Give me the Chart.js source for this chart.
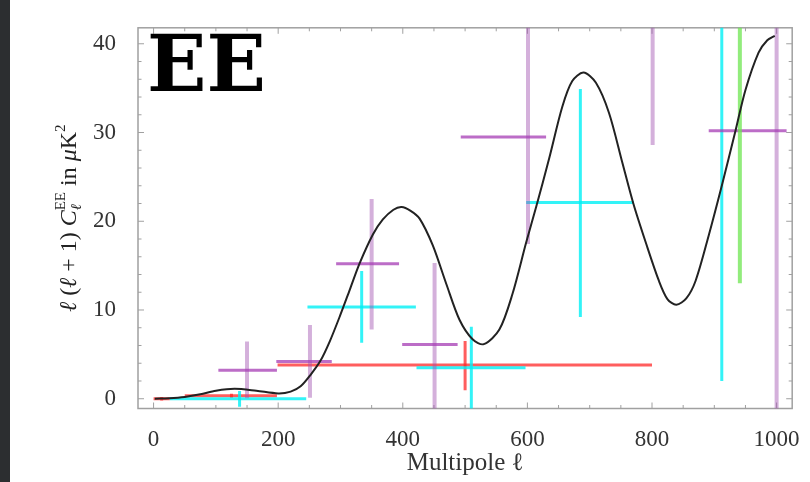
<!DOCTYPE html>
<html>
<head>
<meta charset="utf-8">
<script src="https://cdn.jsdelivr.net/npm/chart.js@4.4.1/dist/chart.umd.min.js"></script>
<style>
  body { margin: 0; background: #fff; }
  #wrap { position: relative; width: 810px; height: 482px; overflow: hidden; }
  #strip { position: absolute; left: 0; top: 0; width: 10px; height: 482px; background: #2c2e30; }
  canvas { position: absolute; left: 0; top: 0; }
</style>
</head>
<body>
<div id="wrap">
  <canvas id="eeChart" width="810" height="482"></canvas>
  <div id="strip"></div>
</div>
<script>
// 理論曲線 (ℓ, ℓ(ℓ+1)C_ℓ^EE)
const theoryEll = [2, 25, 50, 75, 100, 130, 165, 200, 220, 236, 252, 268, 283, 299, 315, 331, 352, 368, 385, 398,
  412, 427, 448, 470, 491, 512, 530, 555, 576, 598, 614, 635, 656, 672, 690, 710, 731, 752, 770, 790,
  811, 825, 839, 855, 870, 891, 912, 934, 950, 971, 985, 997];
const theoryEE = [0.0, 0.05, 0.2, 0.5, 0.9, 1.12, 0.9, 0.6, 0.8, 1.4, 2.7, 4.3, 6.5, 9.3, 12.3, 15.3, 18.5, 20.2, 21.3, 21.6,
  21.2, 20.3, 17.3, 12.9, 8.9, 6.7, 6.15, 7.8, 11.8, 17.6, 21.6, 27.1, 32.9, 35.8, 36.75, 35.6, 32.2, 26.7, 22.0, 17.6,
  13.3, 11.2, 10.6, 11.3, 13.3, 18.4, 24.0, 30.2, 34.8, 39.0, 40.4, 40.9];

// 測定点: [中心ℓ, 値, ℓ下限, ℓ上限, 誤差下限, 誤差上限]
const purpleBars = [
  [150, 3.2, 104, 198, 0.05, 6.45],
  [251, 4.2, 197, 286, 0.1, 8.3],
  [350, 15.2, 293, 394, 7.8, 22.5],
  [451, 6.1, 399, 488, -5, 15.3],
  [601, 29.5, 493, 630, 17.45, 50],
  [801, null, null, null, 28.6, 50],
  [1000, 30.2, 891, 1016, -5, 50]
];
const cyanBars = [
  [138, 0, 26, 245, -0.9, 0.87],
  [334, 10.35, 247, 421, 6.3, 14.4],
  [510, 3.5, 422, 597, -5, 8.1],
  [685, 22.1, 598, 771, 9.2, 34.9],
  [912, null, null, null, 2.0, 50]
];
const redBars = [
  [13, 0, 0, 26, -0.2, 0.2],
  [125, 0.33, 50, 198, 0.1, 0.55],
  [500, 3.8, 199, 800, 0.95, 6.5]
];
const greenBars = [
  [941, null, null, null, 13.0, 50]
];

const xTicks = [0, 200, 400, 600, 800, 1000];
const yTicks = [0, 10, 20, 30, 40];

const serif = '"Liberation Serif", "Times New Roman", serif';

// 十字の横線 or 縦線を null 区切りの点列に
function crossPoints(bars, part) {
  const pts = [];
  bars.forEach(b => {
    const [c, v, l, r, lo, hi] = b;
    if (part === 'h') {
      if (v === null) return;
      pts.push({ x: l, y: v }, { x: r, y: v }, { x: r, y: null });
    } else {
      pts.push({ x: c, y: lo }, { x: c, y: hi }, { x: c, y: null });
    }
  });
  return pts;
}

function barSet(bars, part, color, width) {
  return {
    data: crossPoints(bars, part),
    borderColor: color,
    borderWidth: width,
    borderCapStyle: 'butt',
    pointRadius: 0,
    tension: 0,
    spanGaps: false,
    clip: 0
  };
}

// 枠と内向きの目盛り
const framePlugin = {
  id: 'frame',
  beforeDatasetsDraw(chart) {
    const { ctx, chartArea: a, scales } = chart;
    ctx.save();
    ctx.strokeStyle = '#a0a0a0';
    ctx.lineWidth = 1.5;
    ctx.strokeRect(a.left, a.top, a.right - a.left, a.bottom - a.top);
    ctx.lineWidth = 1;
    ctx.beginPath();
    for (let v = 0; v <= 1000; v += 50) {
      const px = scales.x.getPixelForValue(v);
      const len = v % 200 === 0 ? 6 : 3.5;
      ctx.moveTo(px, a.bottom); ctx.lineTo(px, a.bottom - len);
      ctx.moveTo(px, a.top); ctx.lineTo(px, a.top + len);
    }
    for (let v = 0; v <= 40; v += 2) {
      const py = scales.y.getPixelForValue(v);
      const len = v % 10 === 0 ? 6 : 3.5;
      ctx.moveTo(a.left, py); ctx.lineTo(a.left + len, py);
      ctx.moveTo(a.right, py); ctx.lineTo(a.right - len, py);
    }
    ctx.stroke();
    ctx.restore();
  },
  afterDraw(chart) {
    const { ctx, chartArea: a } = chart;
    ctx.save();
    // パネルラベル
    ctx.fillStyle = '#000';
    ctx.font = 'bold 78px "DejaVu Serif", serif';
    ctx.textBaseline = 'alphabetic';
    ctx.fillText('EE', a.left + 9, 91);

    // 縦軸タイトル (回転)
    const base = '24px ' + serif;
    const ital = 'italic 24px ' + serif;
    const small = '15px ' + serif;
    const smallIt = 'italic 15px ' + serif;
    const pieces = [
      { t: 'ℓ', f: ital }, { t: ' (', f: base }, { t: 'ℓ', f: ital }, { t: ' + 1) ', f: base },
      { t: 'C', f: ital },
      { t: 'ℓ', f: smallIt, dy: 5, t2: 'EE', f2: small, dy2: -11 },
      { t: ' in ', f: base }, { t: 'μ', f: ital }, { t: 'K', f: base }, { t: '2', f: small, dy: -11 }
    ];
    let total = 0;
    pieces.forEach(p => {
      ctx.font = p.f;
      p.w = ctx.measureText(p.t).width;
      if (p.t2) { ctx.font = p.f2; p.w = Math.max(p.w, ctx.measureText(p.t2).width); }
      total += p.w;
    });
    ctx.translate(76, (a.top + a.bottom) / 2);
    ctx.rotate(-Math.PI / 2);
    ctx.fillStyle = '#222';
    let u = -total / 2;
    pieces.forEach(p => {
      ctx.font = p.f;
      ctx.fillText(p.t, u, p.dy || 0);
      if (p.t2) { ctx.font = p.f2; ctx.fillText(p.t2, u, p.dy2); }
      u += p.w;
    });
    ctx.restore();
  }
};

const ctx = document.getElementById('eeChart').getContext('2d');
new Chart(ctx, {
  type: 'line',
  data: {
    datasets: [
      {
        data: theoryEll.map((l, i) => ({ x: l, y: theoryEE[i] })),
        borderColor: '#222',
        borderWidth: 2,
        pointRadius: 0,
        tension: 0.3,
        clip: 0
      },
      barSet(greenBars, 'v', 'rgba(110, 230, 80, 0.75)', 4),
      barSet(purpleBars, 'h', 'rgba(165, 60, 180, 0.75)', 3),
      barSet(purpleBars, 'v', 'rgba(160, 80, 175, 0.45)', 4),
      barSet(cyanBars, 'h', 'rgba(0, 240, 245, 0.8)', 3),
      barSet(cyanBars, 'v', 'rgba(0, 240, 245, 0.8)', 3),
      barSet(redBars, 'h', 'rgba(255, 40, 40, 0.75)', 3),
      barSet(redBars, 'v', 'rgba(255, 40, 40, 0.75)', 3)
    ]
  },
  options: {
    responsive: false,
    animation: false,
    layout: { padding: { left: 0, right: 16, top: 15, bottom: 0 } },
    plugins: { legend: { display: false }, tooltip: { enabled: false } },
    scales: {
      x: {
        type: 'linear',
        min: -25,
        max: 1025,
        grid: { display: false },
        border: { display: false },
        afterBuildTicks: s => { s.ticks = xTicks.map(v => ({ value: v })); },
        afterFit: s => { s.height = 73.5; },
        ticks: { color: '#333', font: { family: serif, size: 23 }, padding: 10, maxRotation: 0, callback: v => String(v) },
        title: { display: true, text: 'Multipole ℓ', color: '#333', font: { family: serif, size: 25 }, padding: { top: 0 } }
      },
      y: {
        type: 'linear',
        min: -1.1,
        max: 41.8,
        grid: { display: false },
        border: { display: false },
        afterBuildTicks: s => { s.ticks = yTicks.map(v => ({ value: v })); },
        afterFit: s => { s.width = 138; },
        ticks: { color: '#333', font: { family: serif, size: 23 }, padding: 14, callback: v => String(v) }
      }
    }
  },
  plugins: [framePlugin]
});
</script>
</body>
</html>
